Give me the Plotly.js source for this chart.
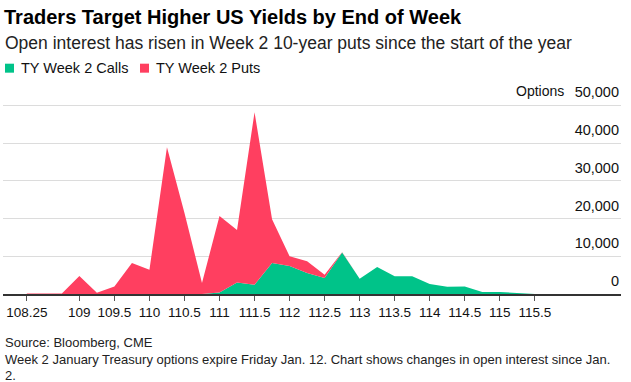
<!DOCTYPE html>
<html>
<head>
<meta charset="utf-8">
<script src="https://cdn.plot.ly/plotly-3.0.1.min.js"></script>
<style>
  html, body { margin: 0; padding: 0; background: #fff; }
  #chart { width: 631px; height: 382px; }
</style>
</head>
<body>
<div id="chart"></div>
<script>
const strikes = [108.25, 108.5, 108.75, 109, 109.25, 109.5, 109.75, 110, 110.25, 110.5,
                 110.75, 111, 111.25, 111.5, 111.75, 112, 112.25, 112.5, 112.75, 113,
                 113.25, 113.5, 113.75, 114, 114.25, 114.5, 114.75, 115, 115.25, 115.5];
const calls = [0, 0, 0, 0, 0, 0, 0, 0, 0, 0,
               0, 400, 3070, 2460, 8200, 7400, 5550, 4230, 11000, 4050,
               7140, 4700, 4700, 2650, 1900, 2000, 530, 530, 260, 0];
const puts = [100, 100, 100, 4800, 300, 2000, 8200, 6400, 38900, 21500,
              2900, 20300, 13900, 45700, 11600, 2600, 3100, 900, 100, 0,
              0, 0, 0, 0, 0, 0, 0, 0, 0, 0];
const xTickVals = [108.25, 109, 109.5, 110, 110.5, 111, 111.5, 112, 112.5, 113, 113.5, 114, 114.5, 115, 115.5];
const xTickText = ["108.25", "109", "109.5", "110", "110.5", "111", "111.5", "112", "112.5", "113", "113.5", "114", "114.5", "115", "115.5"];
const yTickVals = [0, 10000, 20000, 30000, 40000, 50000];
const yTickText = ["0", "10,000", "20,000", "30,000", "40,000", "50,000"];
const seriesNames = ["TY Week 2 Calls", "TY Week 2 Puts"];
const colors = ["#00c389", "#ff3f60"];

const FONT = "Arial, 'Liberation Sans', sans-serif";

const traces = [
  { x: strikes, y: calls, name: seriesNames[0], type: "scatter", mode: "lines",
    stackgroup: "one", line: { width: 0, color: colors[0] }, fillcolor: colors[0],
    hoverinfo: "x+y" },
  { x: strikes, y: puts, name: seriesNames[1], type: "scatter", mode: "lines",
    stackgroup: "one", line: { width: 0, color: colors[1] }, fillcolor: colors[1],
    hoverinfo: "x+y" }
];

// plot geometry: 0 at y=294.3px, 10,000 per 37.8px; range top extended to 57,000
const H = 382, botPx = 294.3, pxPer = 37.8 / 10000, yMax = 57000;
const topPx = botPx - yMax * pxPer;
const py = p => (botPx - p) / (botPx - topPx);

const layout = {
  width: 631, height: 382,
  margin: { l: 3, r: 10, t: topPx, b: H - botPx },
  paper_bgcolor: "#fff", plot_bgcolor: "#fff",
  showlegend: false,
  font: { family: FONT, color: "#000" },
  title: {
    text: "<b>Traders Target Higher US Yields by End of Week</b>",
    font: { family: FONT, size: 20, color: "#000" },
    xref: "container", yref: "container", x: 4 / 631, xanchor: "left",
    y: 1 - 17 / H, yanchor: "middle"
  },
  xaxis: {
    type: "linear", range: [107.91, 116.73],
    tickmode: "array", tickvals: xTickVals, ticktext: xTickText,
    ticks: "outside", ticklen: 5, tickwidth: 1, tickcolor: "#555",
    showgrid: false, zeroline: false,
    showline: true, linecolor: "#333", linewidth: 1.5,
    tickfont: { family: FONT, size: 13.5, color: "#111" },
    fixedrange: true
  },
  yaxis: {
    range: [0, yMax], side: "right",
    tickmode: "array", tickvals: yTickVals, ticktext: yTickText,
    ticklabelposition: "inside", ticklabelshift: -13, ticklabelstandoff: -1,
    ticks: "", showgrid: true, gridcolor: "#dcdcdc", gridwidth: 1,
    zeroline: false, showline: false,
    tickfont: { family: FONT, size: 14.5, color: "#111" },
    fixedrange: true
  },
  shapes: [
    { type: "rect", xref: "paper", yref: "paper",
      x0: 2 / 618, x1: 11 / 618, y0: py(72.5), y1: py(63.5),
      fillcolor: colors[0], line: { width: 0 } },
    { type: "rect", xref: "paper", yref: "paper",
      x0: 137 / 618, x1: 146 / 618, y0: py(72.5), y1: py(63.5),
      fillcolor: colors[1], line: { width: 0 } }
  ],
  annotations: [
    { text: "Open interest has risen in Week 2 10-year puts since the start of the year",
      xref: "paper", yref: "paper", x: 0, y: py(43), xanchor: "left", yanchor: "middle",
      showarrow: false, font: { family: FONT, size: 17.5, color: "#222" } },
    { text: seriesNames[0], xref: "paper", yref: "paper", x: 16 / 618, y: py(68),
      xanchor: "left", yanchor: "middle", showarrow: false,
      font: { family: FONT, size: 14.5, color: "#111" } },
    { text: seriesNames[1], xref: "paper", yref: "paper", x: 151 / 618, y: py(68),
      xanchor: "left", yanchor: "middle", showarrow: false,
      font: { family: FONT, size: 14.5, color: "#111" } },
    { text: "Options", xref: "paper", yref: "paper", x: 563 / 618, y: py(91),
      xanchor: "right", yanchor: "middle", showarrow: false,
      font: { family: FONT, size: 14, color: "#111" } },
    { text: "Source: Bloomberg, CME", xref: "paper", yref: "paper", x: 0, y: py(343),
      xanchor: "left", yanchor: "middle", showarrow: false,
      font: { family: FONT, size: 13, color: "#222" } },
    { text: "Week 2 January Treasury options expire Friday Jan. 12. Chart shows changes in open interest since Jan.",
      xref: "paper", yref: "paper", x: 0, y: py(360),
      xanchor: "left", yanchor: "middle", showarrow: false,
      font: { family: FONT, size: 13, color: "#222" } },
    { text: "2.", xref: "paper", yref: "paper", x: 0, y: py(376),
      xanchor: "left", yanchor: "middle", showarrow: false,
      font: { family: FONT, size: 13, color: "#222" } }
  ]
};

Plotly.newPlot("chart", traces, layout, { displayModeBar: false, staticPlot: true });
</script>
</body>
</html>
